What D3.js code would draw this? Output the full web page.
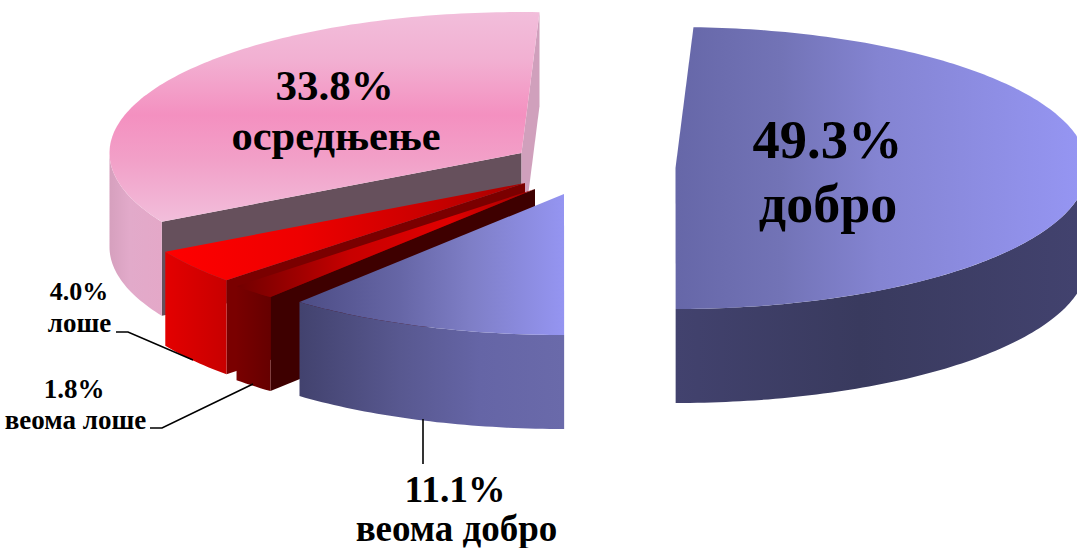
<!DOCTYPE html>
<html><head><meta charset="utf-8">
<script src="https://cdn.jsdelivr.net/npm/d3@7/dist/d3.min.js"></script>
<style>html,body{margin:0;background:#fff}svg{display:block}text{font-family:"Liberation Serif",serif;font-weight:bold;fill:#000;text-anchor:middle}</style>
</head><body><svg id="c" width="1077" height="548"></svg>
<script>
const categories = ["добро","веома добро","веома лоше","лоше","осредњење"];
const values = [49.3,11.1,1.8,4.0,33.8];
const pctLabels = ["49.3%","11.1%","1.8%","4.0%","33.8%"];

const W=1077,H=548, RX=412, RY=141, DEPTH=94;
const deg=Math.PI/180;
const svg=d3.select("#c").attr("viewBox",[0,0,W,H]);
const defs=svg.append("defs");
const clip=defs.append("clipPath").attr("id","frame").append("rect").attr("width",W).attr("height",H);

// exploded pie: each slice's apex on screen
const apex=[[675.5,168],[564,194],[535,189],[525,183],[521.5,153]];
const drawOrder=[4,3,2,1,0];

const style=[
 {top:["x",[[676,"#6667a8"],[780,"#7273b6"],[880,"#8484d2"],[1077,"#9595f2"]]],
  wall:["x",[[676,"#42426e"],[860,"#393a5e"],[1077,"#42426e"]]],start:"#42426e",end:"#42426e"},
 {top:["x",[[299,"#4c4c84"],[400,"#6666a6"],[470,"#7e7ec6"],[565,"#9595f2"]]],
  wall:["x",[[299,"#42426e"],[400,"#585890"],[480,"#6565a6"],[564,"#6a6aaa"]]],start:"#42426e",end:"#42426e"},
 {top:["x",[[235,"#700000"],[300,"#a00000"],[350,"#c80000"],[450,"#e00000"],[536,"#a00000"]]],
  wall:["x",[[235,"#7a0000"],[270,"#660000"]]],start:"#3e0000",end:"#3e0000"},
 {top:["x",[[164,"#ff0000"],[300,"#ee0000"],[420,"#cc0000"],[526,"#a80000"]]],
  wall:["x",[[164,"#e40000"],[226,"#c80000"]]],start:"#7a0000",end:"#7a0000"},
 {top:["y",[[12,"#f2bedb"],[60,"#f2b0d2"],[115,"#f490c0"],[160,"#f2a0c8"],[222,"#f2bedb"]]],
  wall:["x",[[110,"#d6a0be"],[130,"#e2aaca"],[162,"#e4a8c8"]]],start:"#66505c",end:"#d0a0bc"}
];

const pie=d3.pie().sort(null).value(d=>d).startAngle(2.5*deg).endAngle(362.5*deg);
const arcs=pie(values);

function grad(id,[axis,stops]){
  const g=defs.append("linearGradient").attr("id",id).attr("gradientUnits","userSpaceOnUse");
  const e=d3.extent(stops,s=>s[0]);
  if(axis==="x") g.attr("x1",e[0]).attr("x2",e[1]).attr("y1",0).attr("y2",0);
  else g.attr("y1",e[0]).attr("y2",e[1]).attr("x1",0).attr("x2",0);
  stops.forEach(s=>g.append("stop").attr("offset",(s[0]-e[0])/(e[1]-e[0])).attr("stop-color",s[1]));
  return `url(#${id})`;
}
const root=svg.append("g").attr("clip-path","url(#frame)");
const line=d3.line();

drawOrder.forEach(i=>{
  const a=arcs[i], [cx,cy]=apex[i], s=style[i];
  const xs=d3.scaleLinear([-1,1],[cx-RX,cx+RX]), ys=d3.scaleLinear([-1,1],[cy-RY,cy+RY]);
  const rim=(t,dz=0)=>[xs(Math.sin(t)),ys(-Math.cos(t))+dz];
  const sample=(t0,t1)=>{const n=Math.max(2,Math.ceil((t1-t0)/(1*deg)));return d3.range(n+1).map(k=>t0+(t1-t0)*k/n)};
  const g=root.append("g").attr("class","slice").attr("data-cat",categories[i]);
  const cut=(t,fill)=>g.append("path").attr("d",line([[cx,cy],rim(t),rim(t,DEPTH),[cx,cy+DEPTH]])+"Z").attr("fill",fill);
  if(Math.sin(a.startAngle)<-1e-3) cut(a.startAngle,s.start);
  if(Math.sin(a.endAngle)>1e-3) cut(a.endAngle,s.end);
  const w0=Math.max(a.startAngle,90*deg), w1=Math.min(a.endAngle,270*deg);
  if(w1>w0){
    const ts=sample(w0,w1);
    g.append("path").attr("d",line(ts.map(t=>rim(t)).concat(ts.slice().reverse().map(t=>rim(t,DEPTH))))+"Z")
      .attr("fill",grad("w"+i,s.wall));
  }
  const pts=[[cx,cy]].concat(sample(a.startAngle,a.endAngle).map(t=>rim(t)));
  g.append("path").attr("d",line(pts)+"Z").attr("fill",grad("t"+i,s.top));
});

// leader lines
const leaders=[[[116,332],[128,332],[193,360]],[[150,428],[162,428],[253,384]],[[423,419],[423,464]]];
svg.append("g").selectAll("path").data(leaders).join("path")
  .attr("d",d=>line(d)).attr("fill","none").attr("stroke","#000").attr("stroke-width",1.6);

// labels
const labels=[
 [0,0,827.5,158,54.5],[0,1,828,222,54],
 [4,0,334.5,100,43],[4,1,336,150,42.5],
 [1,0,455,502,37.5],[1,1,456.5,541,37],
 [3,0,79,300,26],[3,1,79.5,332,27],
 [2,0,74,398,27],[2,1,75.5,429,27]
];
svg.append("g").selectAll("text").data(labels).join("text")
  .attr("x",d=>d[2]).attr("y",d=>d[3]).attr("font-size",d=>d[4])
  .text(d=>d[1]===0?pctLabels[d[0]]:categories[d[0]]);
</script></body></html>
